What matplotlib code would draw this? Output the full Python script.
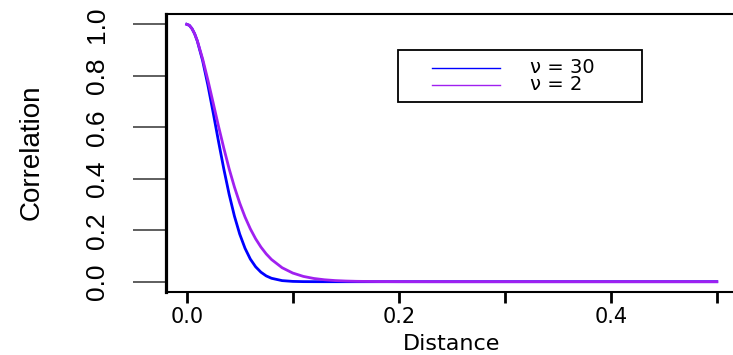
import matplotlib.pyplot as plt
from matplotlib.patches import Rectangle
from matplotlib.lines import Line2D

# values
distance = [0.0, 0.0025, 0.005, 0.0075, 0.01, 0.015, 0.02, 0.025, 0.03, 0.035, 0.04, 0.045,
            0.05, 0.055, 0.06, 0.065, 0.07, 0.075, 0.08, 0.09, 0.1, 0.11,
            0.12, 0.13, 0.14, 0.15, 0.16, 0.18, 0.2, 0.25, 0.3, 0.4, 0.5]
corr_nu30 = [1.0, 0.996, 0.983, 0.963, 0.935, 0.859, 0.763, 0.656, 0.545, 0.438, 0.340, 0.255,
             0.185, 0.130, 0.088, 0.058, 0.037, 0.0225, 0.0133, 0.0042, 0.0012, 0.0003,
             0.0001, 0.0, 0.0, 0.0, 0.0, 0.0, 0.0, 0.0, 0.0, 0.0, 0.0]
corr_nu2 = [1.0, 0.996, 0.983, 0.963, 0.936, 0.866, 0.783, 0.694, 0.604, 0.519, 0.439, 0.368,
            0.3055, 0.2515, 0.2055, 0.1668, 0.1346, 0.108, 0.0862, 0.0543, 0.0337, 0.0206,
            0.0125, 0.0075, 0.0044, 0.0026, 0.0015, 0.0005, 0.0002, 0.0, 0.0, 0.0, 0.0]
series_labels = ["ν = 30", "ν = 2"]

x_ticks = [0.0, 0.1, 0.2, 0.3, 0.4, 0.5]
x_tick_labels = ["0.0", "", "0.2", "", "0.4", ""]
y_ticks = [0.0, 0.2, 0.4, 0.6, 0.8, 1.0]
y_tick_labels = ["0.0", "0.2", "0.4", "0.6", "0.8", "1.0"]

W, H = 733, 355
narrow = ["Liberation Sans", "DejaVu Sans"]

fig = plt.figure(figsize=(W / 100, H / 100), dpi=100)
ax = fig.add_axes([165.5 / W, 63 / H, 572.5 / W, 278 / H])

ax.plot(distance, corr_nu30, color="blue", lw=2.0)
ax.plot(distance, corr_nu2, color="#A020F0", lw=2.0)

ax.set_xlim(-0.02, 0.52)
ax.set_ylim(-0.04, 1.04)

ax.set_xticks(x_ticks)
ax.set_xticklabels(x_tick_labels, fontsize=15, family="DejaVu Sans")
ax.set_yticks(y_ticks)
ax.set_yticklabels(y_tick_labels, fontsize=19, family=narrow,
                   rotation=90, va="center")

ax.tick_params(axis="x", length=8, width=2, pad=3, color="black")
ax.tick_params(axis="y", length=24, width=1.1, pad=17, color="#333333")

ax.spines["right"].set_visible(False)
ax.spines["left"].set_linewidth(2.3)
ax.spines["bottom"].set_linewidth(1.5)
ax.spines["top"].set_linewidth(1.5)

# axis titles
fig.text(452 / W, 0.5 / H, "Distance", fontsize=16, family="DejaVu Sans",
         ha="center", va="bottom")
fig.text(32 / W, 1 - 152 / H, "Correlation", fontsize=20, family=narrow,
         ha="center", va="center", rotation=90)

# legend box
fig.add_artist(Rectangle((398 / W, 1 - 102 / H), 244 / W, 52 / H,
                         transform=fig.transFigure, fill=False,
                         ec="black", lw=1.3))
for yy, col, lab in [(67.7, "blue", series_labels[0]),
                     (85.0, "#A020F0", series_labels[1])]:
    fig.add_artist(Line2D([432 / W, 500 / W], [1 - yy / H, 1 - yy / H],
                          transform=fig.transFigure, color=col, lw=1.0))
    fig.text(530 / W, 1 - yy / H, lab, fontsize=14, family="DejaVu Sans",
             ha="left", va="center")

fig.savefig("out.png", dpi=100)
